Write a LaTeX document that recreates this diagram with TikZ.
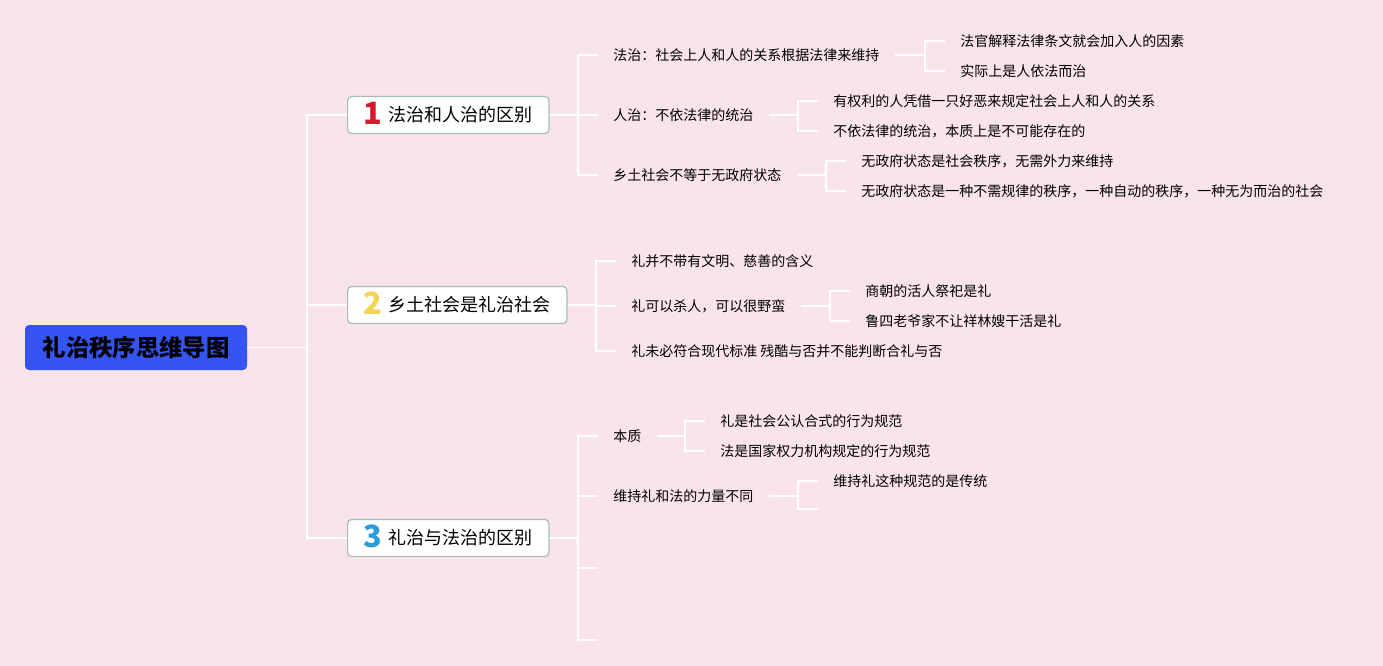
\documentclass[tikz,border=0pt]{standalone}
\usepackage{fontspec}
\setmainfont{Noto Sans CJK SC}
\usepackage{tikz}
\definecolor{bgpink}{HTML}{F9E4EC}
\definecolor{rootblue}{HTML}{3554F3}
\definecolor{boxedge}{HTML}{A5BDB6}
\definecolor{numred}{HTML}{D8192B}
\definecolor{numyellow}{HTML}{F3D64E}
\definecolor{numblue}{HTML}{2B9CDA}
\newcommand{\topicnum}[2]{\raisebox{-2.2pt}{\textcolor{#1}{\fontsize{23pt}{23pt}\selectfont\bfseries #2}}\hspace{5pt}}

\begin{document}
\begin{tikzpicture}[x=0.75pt, y=-0.75pt,
  every node/.style={font=\fontsize{10.5pt}{12pt}\selectfont},
  root/.style={rectangle, fill=rootblue, rounded corners=3pt, minimum width=166.5pt,
    minimum height=33.75pt, font=\fontsize{17.5pt}{20pt}\selectfont\bfseries},
  topic/.style={rectangle, draw=boxedge, line width=0.9pt, fill=white, rounded corners=3pt,
    minimum height=27.75pt, inner xsep=12pt, inner ysep=1.5pt, text height=17pt, text depth=7pt,
    anchor=west, font=\fontsize{13.5pt}{15pt}\selectfont},
  leaf/.style={anchor=west, inner xsep=11.25pt, inner ysep=0pt},
  link/.style={draw=white, line width=1.4pt},
]
  \useasboundingbox (0,0) rectangle (1383,666);
  \fill[bgpink] (0,0) rectangle (1383,666);

  % centre and main topics
  \node[root] (root) at (136,347.5) {礼治秩序思维导图};
  \node[topic] (rule) at (347,115) {\topicnum{numred}{1}法治和人治的区别};
  \node[topic] (rural) at (347,305) {\topicnum{numyellow}{2}乡土社会是礼治社会};
  \node[topic] (diff) at (347,538) {\topicnum{numblue}{3}礼治与法治的区别};

  \draw[link] (root.east) -- ([xshift=-30pt]rule.west |- root.east) |- (rule.west);
  \draw[link] (root.east) -- ([xshift=-30pt]rural.west |- root.east) |- (rural.west);
  \draw[link] (root.east) -- ([xshift=-30pt]diff.west |- root.east) |- (diff.west);

  % branch 1
  \node[leaf] (lawrule) at (598,55) {法治：社会上人和人的关系根据法律来维持};
  \node[leaf] (manrule) at (598,115) {人治：不依法律的统治};
  \node[leaf] (noanarchy) at (598,175) {乡土社会不等于无政府状态};
  \node[leaf] (judge) at (945,41) {法官解释法律条文就会加入人的因素};
  \node[leaf] (bylaw) at (945,71) {实际上是人依法而治};
  \node[leaf] (power) at (818,101) {有权利的人凭借一只好恶来规定社会上人和人的关系};
  \node[leaf] (nolaw) at (818,131) {不依法律的统治，本质上是不可能存在的};
  \node[leaf] (anarchy) at (846,161) {无政府状态是社会秩序，无需外力来维持};
  \node[leaf] (selforder) at (846,191) {无政府状态是一种不需规律的秩序，一种自动的秩序，一种无为而治的社会};

  \foreach \c in {lawrule,manrule,noanarchy}
    \draw[link] (rule.east) -- ([xshift=-15pt]\c.west |- rule.east) |- (\c.west);
  \foreach \c in {judge,bylaw}
    \draw[link] (lawrule.east) -- ([xshift=-15pt]\c.west |- lawrule.east) |- (\c.west);
  \foreach \c in {power,nolaw}
    \draw[link] (manrule.east) -- ([xshift=-15pt]\c.west |- manrule.east) |- (\c.west);
  \foreach \c in {anarchy,selforder}
    \draw[link] (noanarchy.east) -- ([xshift=-15pt]\c.west |- noanarchy.east) |- (\c.west);

  % branch 2
  \node[leaf] (nomercy) at (616,261) {礼并不带有文明、慈善的含义};
  \node[leaf] (kill) at (616,306) {礼可以杀人，可以很野蛮};
  \node[leaf] (modern) at (616,351) {礼未必符合现代标准 残酷与否并不能判断合礼与否};
  \node[leaf] (shang) at (850,291) {商朝的活人祭祀是礼};
  \node[leaf] (lusi) at (850,321) {鲁四老爷家不让祥林嫂干活是礼};

  \foreach \c in {nomercy,kill,modern}
    \draw[link] (rural.east) -- ([xshift=-15pt]\c.west |- rural.east) |- (\c.west);
  \foreach \c in {shang,lusi}
    \draw[link] (kill.east) -- ([xshift=-15pt]\c.west |- kill.east) |- (\c.west);

  % branch 3
  \node[leaf] (essence) at (598,436) {本质};
  \node[leaf] (force) at (598,496) {维持礼和法的力量不同};
  \coordinate (diffc) at (598,568);
  \coordinate (diffd) at (598,640);
  \node[leaf] (li) at (705,421) {礼是社会公认合式的行为规范};
  \node[leaf] (fa) at (705,451) {法是国家权力机构规定的行为规范};
  \node[leaf] (tradition) at (818,481) {维持礼这种规范的是传统};
  \coordinate (forceb) at (818,509);

  \foreach \c in {essence,force,diffc,diffd}
    \draw[link] (diff.east) -- ([xshift=-15pt]\c.west |- diff.east) |- (\c.west);
  \foreach \c in {li,fa}
    \draw[link] (essence.east) -- ([xshift=-15pt]\c.west |- essence.east) |- (\c.west);
  \draw[link] (force.east) -- ([xshift=-15pt]tradition.west |- force.east) |- (tradition.west);
  \draw[link] (force.east) -- ([xshift=-15pt]tradition.west |- force.east) |- (forceb);
\end{tikzpicture}
\end{document}
